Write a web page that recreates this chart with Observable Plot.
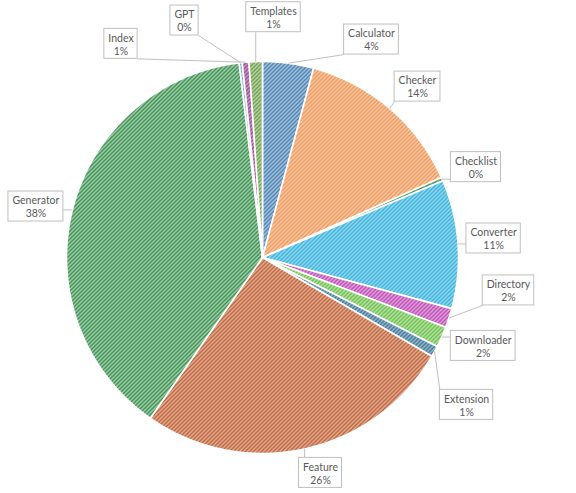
<!DOCTYPE html>
<html><head><meta charset="utf-8">
<script src="https://cdn.jsdelivr.net/npm/d3@7"></script>
<script src="https://cdn.jsdelivr.net/npm/@observablehq/plot@0.6"></script>
<style>html,body{margin:0;padding:0;background:#fff;} svg{display:block}</style>
</head><body><div id="chart"></div>
<script>
// ---- data ----
const categories = ["Calculator","Checker","Checklist","Converter","Directory","Downloader","Extension","Feature","Generator","GPT","Index","Templates"];
const shares = [4.2, 14.1, 0.3, 10.6, 1.6, 1.7, 0.9, 26.3, 38.4, 0.25, 0.55, 1.1];

// ---- styles (hatch foreground / background) ----
const hatchFg = ["#21598c","#e87a2e","#1f6a36","#0d94cc","#9c2494","#45a02a","#1d5272","#983e1c","#155c28","#3a80b0","#732570","#477628"];
const hatchBg = ["#b4d4ee","#fcd6ba","#7cc690","#a4e6f8","#f2b0ec","#c6f1ae","#a2c8dc","#f6bc9c","#ace6b8","#b6dcf2","#dca6d9","#c8e6b2"];

// ---- label layout (unit-circle coordinates of callout centres) ----
const labelX = [0.556, 0.791, 1.089, 1.179, 1.255, 1.126, 1.041, 0.296, -1.156, -0.398, -0.722, 0.056];
const labelY = [1.112, 0.872, 0.461, 0.097, -0.168, -0.451, -0.752, -1.099, 0.260, 1.209, 1.090, 1.226];

const W = 576, H = 493, R = 196, cx = 262, cy = 257;
const FONT = "Lato, 'Open Sans', sans-serif";

const arcs = d3.pie().sort(null).value(d => d)(shares);
const slices = arcs.map(a => {
  const n = Math.max(2, Math.ceil((a.endAngle - a.startAngle) / 0.01));
  const pts = [{x: 0, y: 0}];
  for (let k = 0; k <= n; k++) {
    const t = a.startAngle + (a.endAngle - a.startAngle) * k / n;
    pts.push({x: Math.sin(t), y: Math.cos(t)});
  }
  pts.push({x: 0, y: 0});
  return pts;
});

const ctx = document.createElement("canvas").getContext("2d");
ctx.font = "10.5px " + FONT;
const pad = 4, halfH = 15 / R;
const rows = categories.map((name, i) => {
  const pct = Math.round(shares[i]) + "%";
  const tw = Math.max(ctx.measureText(name).width, ctx.measureText(pct).width);
  const hw = (tw / 2 + pad) / R;
  const mid = (arcs[i].startAngle + arcs[i].endAngle) / 2;
  const mx = Math.sin(mid), my = Math.cos(mid);
  const lx = labelX[i], ly = labelY[i];
  const ex = Math.max(lx - hw, Math.min(lx + hw, mx));
  const ey = Math.max(ly - halfH, Math.min(ly + halfH, my));
  return {name, pct, lx, ly, hw, mx, my, ex, ey};
});

const chart = Plot.plot({
  width: W, height: H, margin: 0,
  x: {domain: [-cx / R, (W - cx) / R], axis: null},
  y: {domain: [(cy - H) / R, cy / R], axis: null},
  marks: [
    ...slices.map((pts, i) => Plot.line(pts, {
      x: "x", y: "y", fill: `url(#hatch${i})`, stroke: "white", strokeWidth: 1.6, strokeLinejoin: "round"
    })),
    Plot.link(rows, {x1: "mx", y1: "my", x2: "ex", y2: "ey", stroke: "#bfbfbf", strokeWidth: 1}),
    Plot.rect(rows, {
      x1: d => d.lx - d.hw, x2: d => d.lx + d.hw,
      y1: d => d.ly - halfH, y2: d => d.ly + halfH,
      fill: "white", stroke: "#bfbfbf", strokeWidth: 1
    }),
    Plot.text(rows, {
      x: "lx", y: "ly", text: d => d.name + "\n" + d.pct,
      lineHeight: 1.25, fontSize: 10.5, fill: "#595959", fontFamily: FONT
    })
  ]
});

const defs = d3.select(chart).insert("defs", ":first-child");
hatchFg.forEach((fg, i) => {
  const p = defs.append("pattern").attr("id", "hatch" + i)
    .attr("width", 4).attr("height", 4).attr("patternUnits", "userSpaceOnUse");
  p.append("rect").attr("width", 4).attr("height", 4).attr("fill", hatchBg[i]);
  p.append("path").attr("d", "M-1,1 l2,-2 M0,4 l4,-4 M3,5 l2,-2")
    .attr("stroke", fg).attr("stroke-width", 1.2);
});

document.getElementById("chart").appendChild(chart);
</script>
</body></html>
